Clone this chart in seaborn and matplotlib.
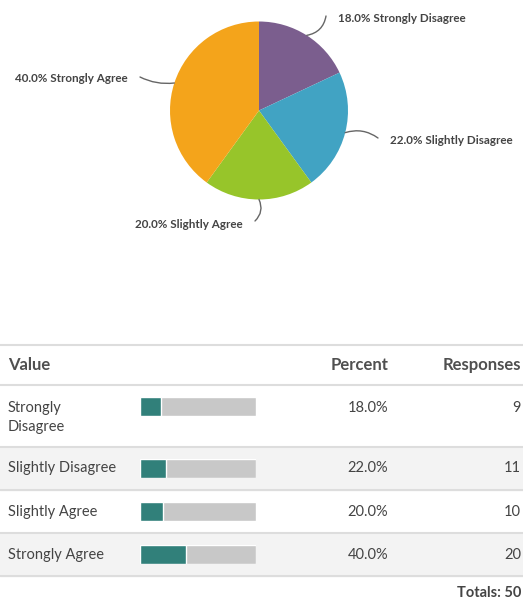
import matplotlib
matplotlib.use("Agg")
import matplotlib.pyplot as plt
import seaborn as sns
import numpy as np

# dados da pesquisa
categorias = ["Strongly Disagree", "Slightly Disagree", "Slightly Agree", "Strongly Agree"]
respostas = [9, 11, 10, 20]
percentuais = [18.0, 22.0, 20.0, 40.0]
cores_pizza = ["#7B5E8E", "#41A3C3", "#97C52A", "#F4A41B"]
total = 50

sns.set_style("white")
plt.rcParams["font.family"] = ["Lato", "DejaVu Sans"]

W, H = 523, 599
fig = plt.figure(figsize=(W / 100, H / 100), dpi=100)
ax = fig.add_axes([0, 0, 1, 1])

# Gráfico de pizza
cx, cy, r = 259, 110.5, 89
wedges, _ = ax.pie(respostas, colors=cores_pizza, startangle=90, counterclock=False,
                   center=(cx, H - cy), radius=r, wedgeprops=dict(linewidth=0))

# posições dos rótulos (pixels): fim da linha, texto, alinhamento, curvatura
rotulos = [
    ((326, 16), (338, 18), "left", -0.35),
    ((378, 138), (390, 141), "left", 0.25),
    ((255, 221), (189, 224), "center", 0.35),
    ((140, 77), (128, 79), "right", 0.15),
]
for w, cat, pct, (fim, pos, ha, rad) in zip(wedges, categorias, percentuais, rotulos):
    ang = np.deg2rad((w.theta1 + w.theta2) / 2)
    x0 = cx + r * np.cos(ang)
    y0 = (H - cy) + r * np.sin(ang)
    ax.annotate("", xy=(x0, y0), xytext=(fim[0], H - fim[1]),
                arrowprops=dict(arrowstyle="-", color="#666666", lw=1,
                                connectionstyle=f"arc3,rad={rad}", shrinkA=0, shrinkB=0))
    ax.text(pos[0], H - pos[1], f"{pct:.1f}% {cat}", ha=ha, va="center",
            fontsize=8.4, fontweight="bold", color="#444444")

ax.set_xlim(0, W)
ax.set_ylim(0, H)
ax.set_aspect("auto")
ax.axis("off")

# Tabela
linhas = [345, 385, 447, 490, 533, 576]
for yl in linhas:
    ax.plot([0, W], [H - yl, H - yl], color="#DDDDDD", lw=1.5)
for i in (1, 3):
    ax.axhspan(H - linhas[i + 2], H - linhas[i + 1], color="#F3F3F3", zorder=0)

cab_y = 365
ax.text(8, H - cab_y, "Value", ha="left", va="center", fontsize=12, fontweight="bold", color="#505050")
ax.text(388, H - cab_y, "Percent", ha="right", va="center", fontsize=12, fontweight="bold", color="#505050")
ax.text(521, H - cab_y, "Responses", ha="right", va="center", fontsize=12, fontweight="bold", color="#505050")

texto_y = [408, 468, 512, 555]
for i, (cat, pct, n) in enumerate(zip(categorias, percentuais, respostas)):
    ty = texto_y[i]
    if i == 0:
        ax.text(8, H - (ty + 9.5), cat.replace(" ", "\n"), ha="left", va="center",
                fontsize=10.5, color="#444444", linespacing=1.45)
    else:
        ax.text(8, H - ty, cat, ha="left", va="center", fontsize=10.5, color="#444444")
    ax.text(388, H - ty, f"{pct:.1f}%", ha="right", va="center", fontsize=10.5, color="#444444")
    ax.text(521, H - ty, str(n), ha="right", va="center", fontsize=10.5, color="#444444")

    # barra de percentual
    topo = linhas[i + 1] + 12
    bax = fig.add_axes([140 / W, (H - topo - 19) / H, 116 / W, 19 / H])
    sns.barplot(x=[100], y=[cat], color="#C8C8C8", width=1, saturation=1, ax=bax)
    sns.barplot(x=[pct], y=[cat], color="#31807A", width=1, saturation=1, ax=bax)
    bax.set_xlim(0, 100)
    bax.set_ylim(0.5, -0.5)
    bax.axis("off")

ax.text(521, H - 593, f"Totals: {total}", ha="right", va="center", fontsize=10.5,
        fontweight="bold", color="#444444")

fig.savefig("out.png", dpi=100)
